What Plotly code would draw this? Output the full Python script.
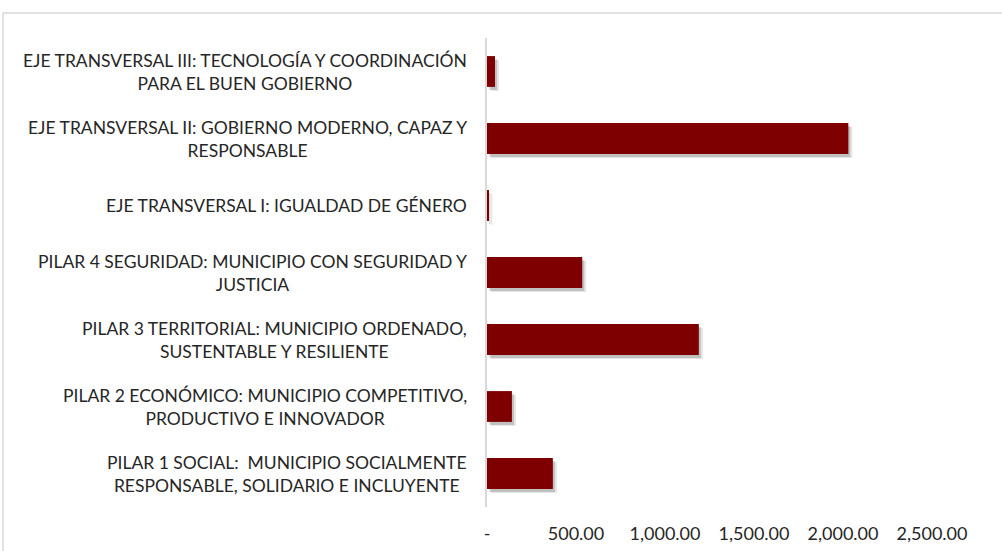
import plotly.graph_objects as go

# bottom to top, as drawn on the category axis
categories = [
    "PILAR 1 SOCIAL:  MUNICIPIO SOCIALMENTE<br>RESPONSABLE, SOLIDARIO E INCLUYENTE",
    "PILAR 2 ECONÓMICO: MUNICIPIO COMPETITIVO,<br>PRODUCTIVO E INNOVADOR",
    "PILAR 3 TERRITORIAL: MUNICIPIO ORDENADO,<br>SUSTENTABLE Y RESILIENTE",
    "PILAR 4 SEGURIDAD: MUNICIPIO CON SEGURIDAD Y<br>JUSTICIA",
    "EJE TRANSVERSAL I: IGUALDAD DE GÉNERO",
    "EJE TRANSVERSAL II: GOBIERNO MODERNO, CAPAZ Y<br>RESPONSABLE",
    "EJE TRANSVERSAL III: TECNOLOGÍA Y COORDINACIÓN<br>PARA EL BUEN GOBIERNO",
]
values = [370, 140, 1190, 535, 8, 2030, 45]

tick_vals = [0, 500, 1000, 1500, 2000, 2500]
tick_text = ["-", "500.00", "1,000.00", "1,500.00", "2,000.00", "2,500.00"]

W, H = 1002, 551
ML, MR, MT, MB = 487, 70, 38, 44
plot_w = W - ML - MR
plot_h = H - MT - MB
xmax = 2500
n = len(categories)
ux = xmax / plot_w          # data units per pixel (x)
uy = n / plot_h             # category units per pixel (y)

fig = go.Figure()

# soft drop shadow: two offset layers on hidden overlay axes
shadows = [("rgba(0,0,0,0.10)", "", ""), ("rgba(0,0,0,0.16)", "2", "2")]
for col, xs, ys in shadows:
    fig.add_trace(go.Bar(
        x=values, y=categories, orientation="h",
        marker=dict(color=col, line=dict(width=0)),
        xaxis="x" + xs, yaxis="y" + ys, hoverinfo="skip", showlegend=False,
    ))

fig.add_trace(go.Bar(
    x=values, y=categories, orientation="h",
    marker=dict(color="#7f0000", line=dict(width=0)),
    xaxis="x3", yaxis="y3", showlegend=False,
))

def shadow_axes(dx, dy):
    xa = dict(range=[-dx * ux, xmax - dx * ux], visible=False,
              fixedrange=True, automargin=False)
    ya = dict(range=[-0.5 + dy * uy, n - 0.5 + dy * uy], visible=False,
              categoryorder="array", categoryarray=categories, automargin=False)
    return xa, ya

xa1, ya1 = shadow_axes(4, 4)
xa2, ya2 = shadow_axes(2, 3)

FONT = "Lato, 'Open Sans', sans-serif"

fig.update_layout(
    width=W, height=H,
    margin=dict(l=ML, r=MR, t=MT, b=MB),
    paper_bgcolor="white", plot_bgcolor="white",
    bargap=0.54,
    font=dict(family=FONT, size=17.5, color="#262626"),
    xaxis=xa1, yaxis=ya1,
    xaxis2=dict(xa2, overlaying="x"), yaxis2=dict(ya2, overlaying="y"),
    xaxis3=dict(
        overlaying="x", range=[0, xmax], tickvals=tick_vals, ticktext=tick_text,
        showgrid=False, zeroline=False, showline=False, ticks="",
        ticklabelstandoff=14, tickfont=dict(size=18, color="#262626"),
        fixedrange=True, automargin=False,
    ),
    yaxis3=dict(
        overlaying="y", range=[-0.5, n - 0.5], categoryorder="array",
        categoryarray=categories, showticklabels=False, ticks="",
        showgrid=False, zeroline=False, automargin=False,
        showline=True, linecolor="#d9d9d9", linewidth=2,
    ),
)

# category labels: centered multi-line text to the left of the axis
for cat in categories:
    fig.add_annotation(
        x=(469 - ML) / plot_w, xref="paper", y=cat, yref="y3",
        text=cat, showarrow=False, xanchor="right", yanchor="middle",
        align="center", font=dict(size=17.5, color="#262626"),
    )

# chart border (runs off the right and bottom edges)
fig.add_shape(
    type="rect", xref="paper", yref="paper",
    x0=(3 - ML) / plot_w, x1=(W + 20 - ML) / plot_w,
    y0=-(MB + 20) / plot_h, y1=(H - MB - 13) / plot_h,
    line=dict(color="#d9d9d9", width=1.5), layer="below",
)

fig.write_html("out.html", config={"displayModeBar": False},
               post_script="document.body.style.margin='0';")
